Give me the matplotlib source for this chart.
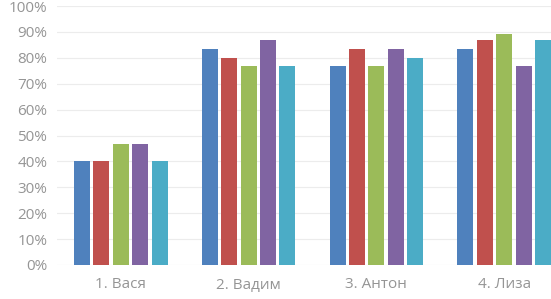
import numpy as np
import matplotlib.pyplot as plt
from matplotlib.ticker import PercentFormatter

categories = ["1. Вася", "2. Вадим", "3. Антон", "4. Лиза"]
s1 = [40.0, 83.3, 76.7, 83.3]
s2 = [40.0, 80.0, 83.3, 86.7]
s3 = [46.7, 76.7, 76.7, 89.0]
s4 = [46.7, 86.7, 83.3, 76.7]
s5 = [40.0, 76.7, 80.0, 86.7]
series = [s1, s2, s3, s4, s5]
colors = ["#4F81BD", "#C0504D", "#9BBB59", "#8064A2", "#4BACC6"]

plt.rcParams['font.family'] = ['Open Sans', 'DejaVu Sans']

fig = plt.figure(figsize=(5.51, 2.99), dpi=100)
ax = fig.add_axes([57 / 551, 34 / 299, 511 / 551, 259 / 299])

x = np.arange(len(categories))
step = 0.152
width = 0.125
for i, vals in enumerate(series):
    ax.bar(x + (i - 2) * step, vals, width, color=colors[i], zorder=3)

ax.set_xlim(-0.5, len(categories) - 0.5)
ax.set_ylim(0, 100)
ax.set_yticks(np.arange(0, 101, 10))
ax.yaxis.set_major_formatter(PercentFormatter(decimals=0))
ax.set_xticks(x)
ax.set_xticklabels(categories)
ax.grid(axis='y', color='#ECECEC', linewidth=0.8, zorder=0)
for s in ax.spines.values():
    s.set_visible(False)
ax.tick_params(length=0, labelsize=11, colors='#959595', pad=7)
ax.tick_params(axis='x', pad=9)

fig.savefig("out.png", dpi=100)
